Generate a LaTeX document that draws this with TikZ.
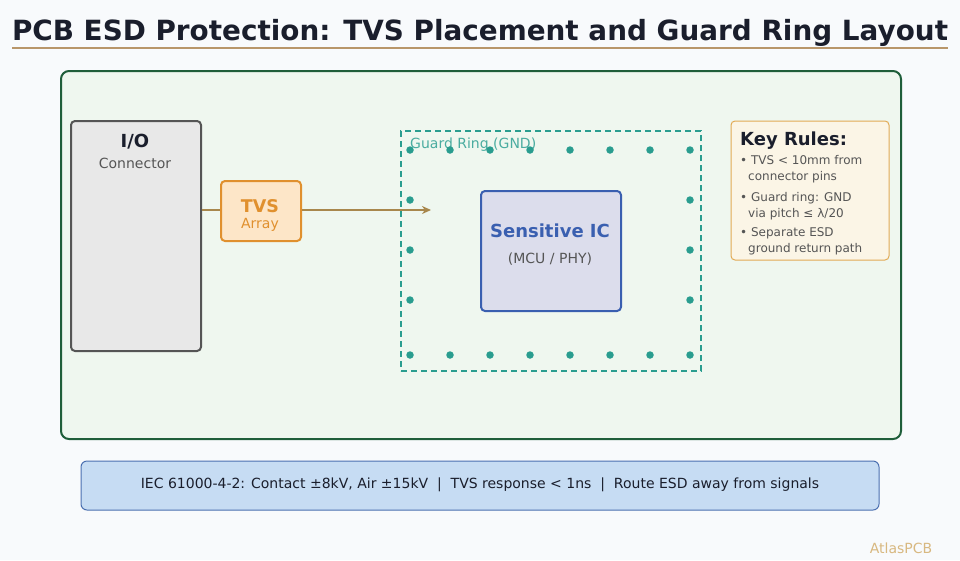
\documentclass[tikz,border=0pt]{standalone}
\usepackage{fontspec}
\setmainfont{DejaVu Sans}
\usetikzlibrary{arrows.meta}
\definecolor{bgc}{HTML}{F8FAFC}
\definecolor{titlec}{HTML}{1A1E2C}
\definecolor{tanline}{HTML}{B8966A}
\definecolor{boardfill}{HTML}{EFF7EF}
\definecolor{boardline}{HTML}{1F5E3A}
\definecolor{iofill}{HTML}{E8E8E8}
\definecolor{ioline}{HTML}{555555}
\definecolor{tvsfill}{HTML}{FDE6C8}
\definecolor{tvsline}{HTML}{E0902E}
\definecolor{trace}{HTML}{A8874C}
\definecolor{teal}{HTML}{2A9D8F}
\definecolor{icfill}{HTML}{DCDDEC}
\definecolor{icline}{HTML}{3A5FB0}
\definecolor{keyfill}{HTML}{FBF5E6}
\definecolor{keyline}{HTML}{E2AA55}
\definecolor{grayt}{HTML}{555555}
\definecolor{barfill}{HTML}{C6DCF3}
\definecolor{barline}{HTML}{4A6FB0}
\definecolor{brand}{HTML}{D8B880}
\tikzset{
  box/.style={draw, line width=2pt, inner sep=0pt, rounded corners=4pt},
  lbl/.style={anchor=base, inner sep=0pt},
  via/.style={circle, fill=teal, inner sep=0pt, minimum size=7.5pt},
  rule/.style={anchor=base west, inner sep=0pt, font=\fontsize{12}{14}\selectfont, text=grayt},
}
\begin{document}
\begin{tikzpicture}[x=1pt,y=-1pt]
\useasboundingbox (0,0) rectangle (960,560);
\fill[bgc] (0,0) rectangle (960,560);
% title
\node[lbl, text=titlec] (title) at (480,40) {\resizebox{936pt}{!}{\fontsize{28}{32}\selectfont\bfseries PCB ESD Protection: TVS Placement and Guard Ring Layout}};
\draw[tanline, line width=2pt] (12,48) -- (948,48);
% board
\node[box, draw=boardline, fill=boardfill, rounded corners=8pt, minimum width=840pt, minimum height=368pt] (board) at (481,255) {};
% I/O connector
\node[box, draw=ioline, fill=iofill, minimum width=130pt, minimum height=230pt] (io) at (136,236) {};
\node[lbl, font=\fontsize{18}{20}\selectfont\bfseries, text=titlec] (iot) at (135,147) {I/O};
\node[lbl, font=\fontsize{14}{16}\selectfont, text=grayt] (iot2) at (135,168) {Connector};
% TVS
\node[box, draw=tvsline, fill=tvsfill, minimum width=80pt, minimum height=60pt] (tvs) at (261,211) {};
\node[lbl, font=\fontsize{17.5}{19}\selectfont\bfseries, text=tvsline] (tvst) at (260,212) {TVS};
\node[lbl, font=\fontsize{14}{16}\selectfont, text=tvsline] (tvst2) at (260,228) {Array};
% traces
\draw[trace, line width=2.8pt] (io.east |- 0,210) -- (tvs.west |- 0,210);
\coordinate (aend) at (431,210);
\draw[trace, line width=2.8pt, -{Stealth[length=9pt,width=8pt]}] (tvs.east |- 0,210) -- (aend);
% guard ring
\node[draw=teal, line width=2pt, dash pattern=on 6pt off 4pt, inner sep=0pt, minimum width=300pt, minimum height=240pt] (ring) at (551,251) {};
\node[anchor=base west, inner sep=0pt, font=\fontsize{14}{16}\selectfont, text=teal!85!white] (ringt) at (410,148) {Guard Ring (GND)};
\foreach \x [count=\i] in {410,450,490,530,570,610,650,690}{
  \node[via] (vt\i) at (\x,150) {};
  \node[via] (vb\i) at (\x,355) {};
}
\foreach \y [count=\i] in {200,250,300}{
  \node[via] (vl\i) at (410,\y) {};
  \node[via] (vr\i) at (690,\y) {};
}
% IC
\node[box, draw=icline, fill=icfill, minimum width=140pt, minimum height=120pt] (ic) at (551,251) {};
\node[lbl, font=\fontsize{18}{20}\selectfont\bfseries, text=icline] (ict) at (550,237) {Sensitive IC};
\node[lbl, font=\fontsize{14}{16}\selectfont, text=grayt] (ict2) at (550,263) {(MCU / PHY)};
% key rules
\node[draw=keyline, line width=1pt, fill=keyfill, rounded corners=4pt, inner sep=0pt, minimum width=158pt, minimum height=139pt] (key) at (810,190.5) {};
\node[anchor=base west, inner sep=0pt, font=\fontsize{18}{20}\selectfont\bfseries, text=titlec] (keyt) at (740,145) {Key Rules:};
\node[rule] (r1) at (740,164) {• TVS < 10mm from};
\node[rule] (r1b) at (748,180) {connector pins};
\node[rule] (r2) at (740,201) {• Guard ring: GND};
\node[rule] (r2b) at (748,217) {via pitch ≤ λ/20};
\node[rule] (r3) at (740,236) {• Separate ESD};
\node[rule] (r3b) at (748,252) {ground return path};
% bottom bar
\node[draw=barline, line width=1pt, fill=barfill, rounded corners=6pt, inner sep=0pt, minimum width=798pt, minimum height=49pt] (bar) at (480,485.5) {};
\node[lbl, font=\fontsize{14}{16}\selectfont, text=titlec] (bart) at (480,488) {IEC 61000-4-2: Contact ±8kV, Air ±15kV \ | \ TVS response < 1ns \ | \ Route ESD away from signals};
% brand
\node[lbl, font=\fontsize{14}{16}\selectfont, text=brand] (brandt) at (901,553) {AtlasPCB};
\end{tikzpicture}
\end{document}
